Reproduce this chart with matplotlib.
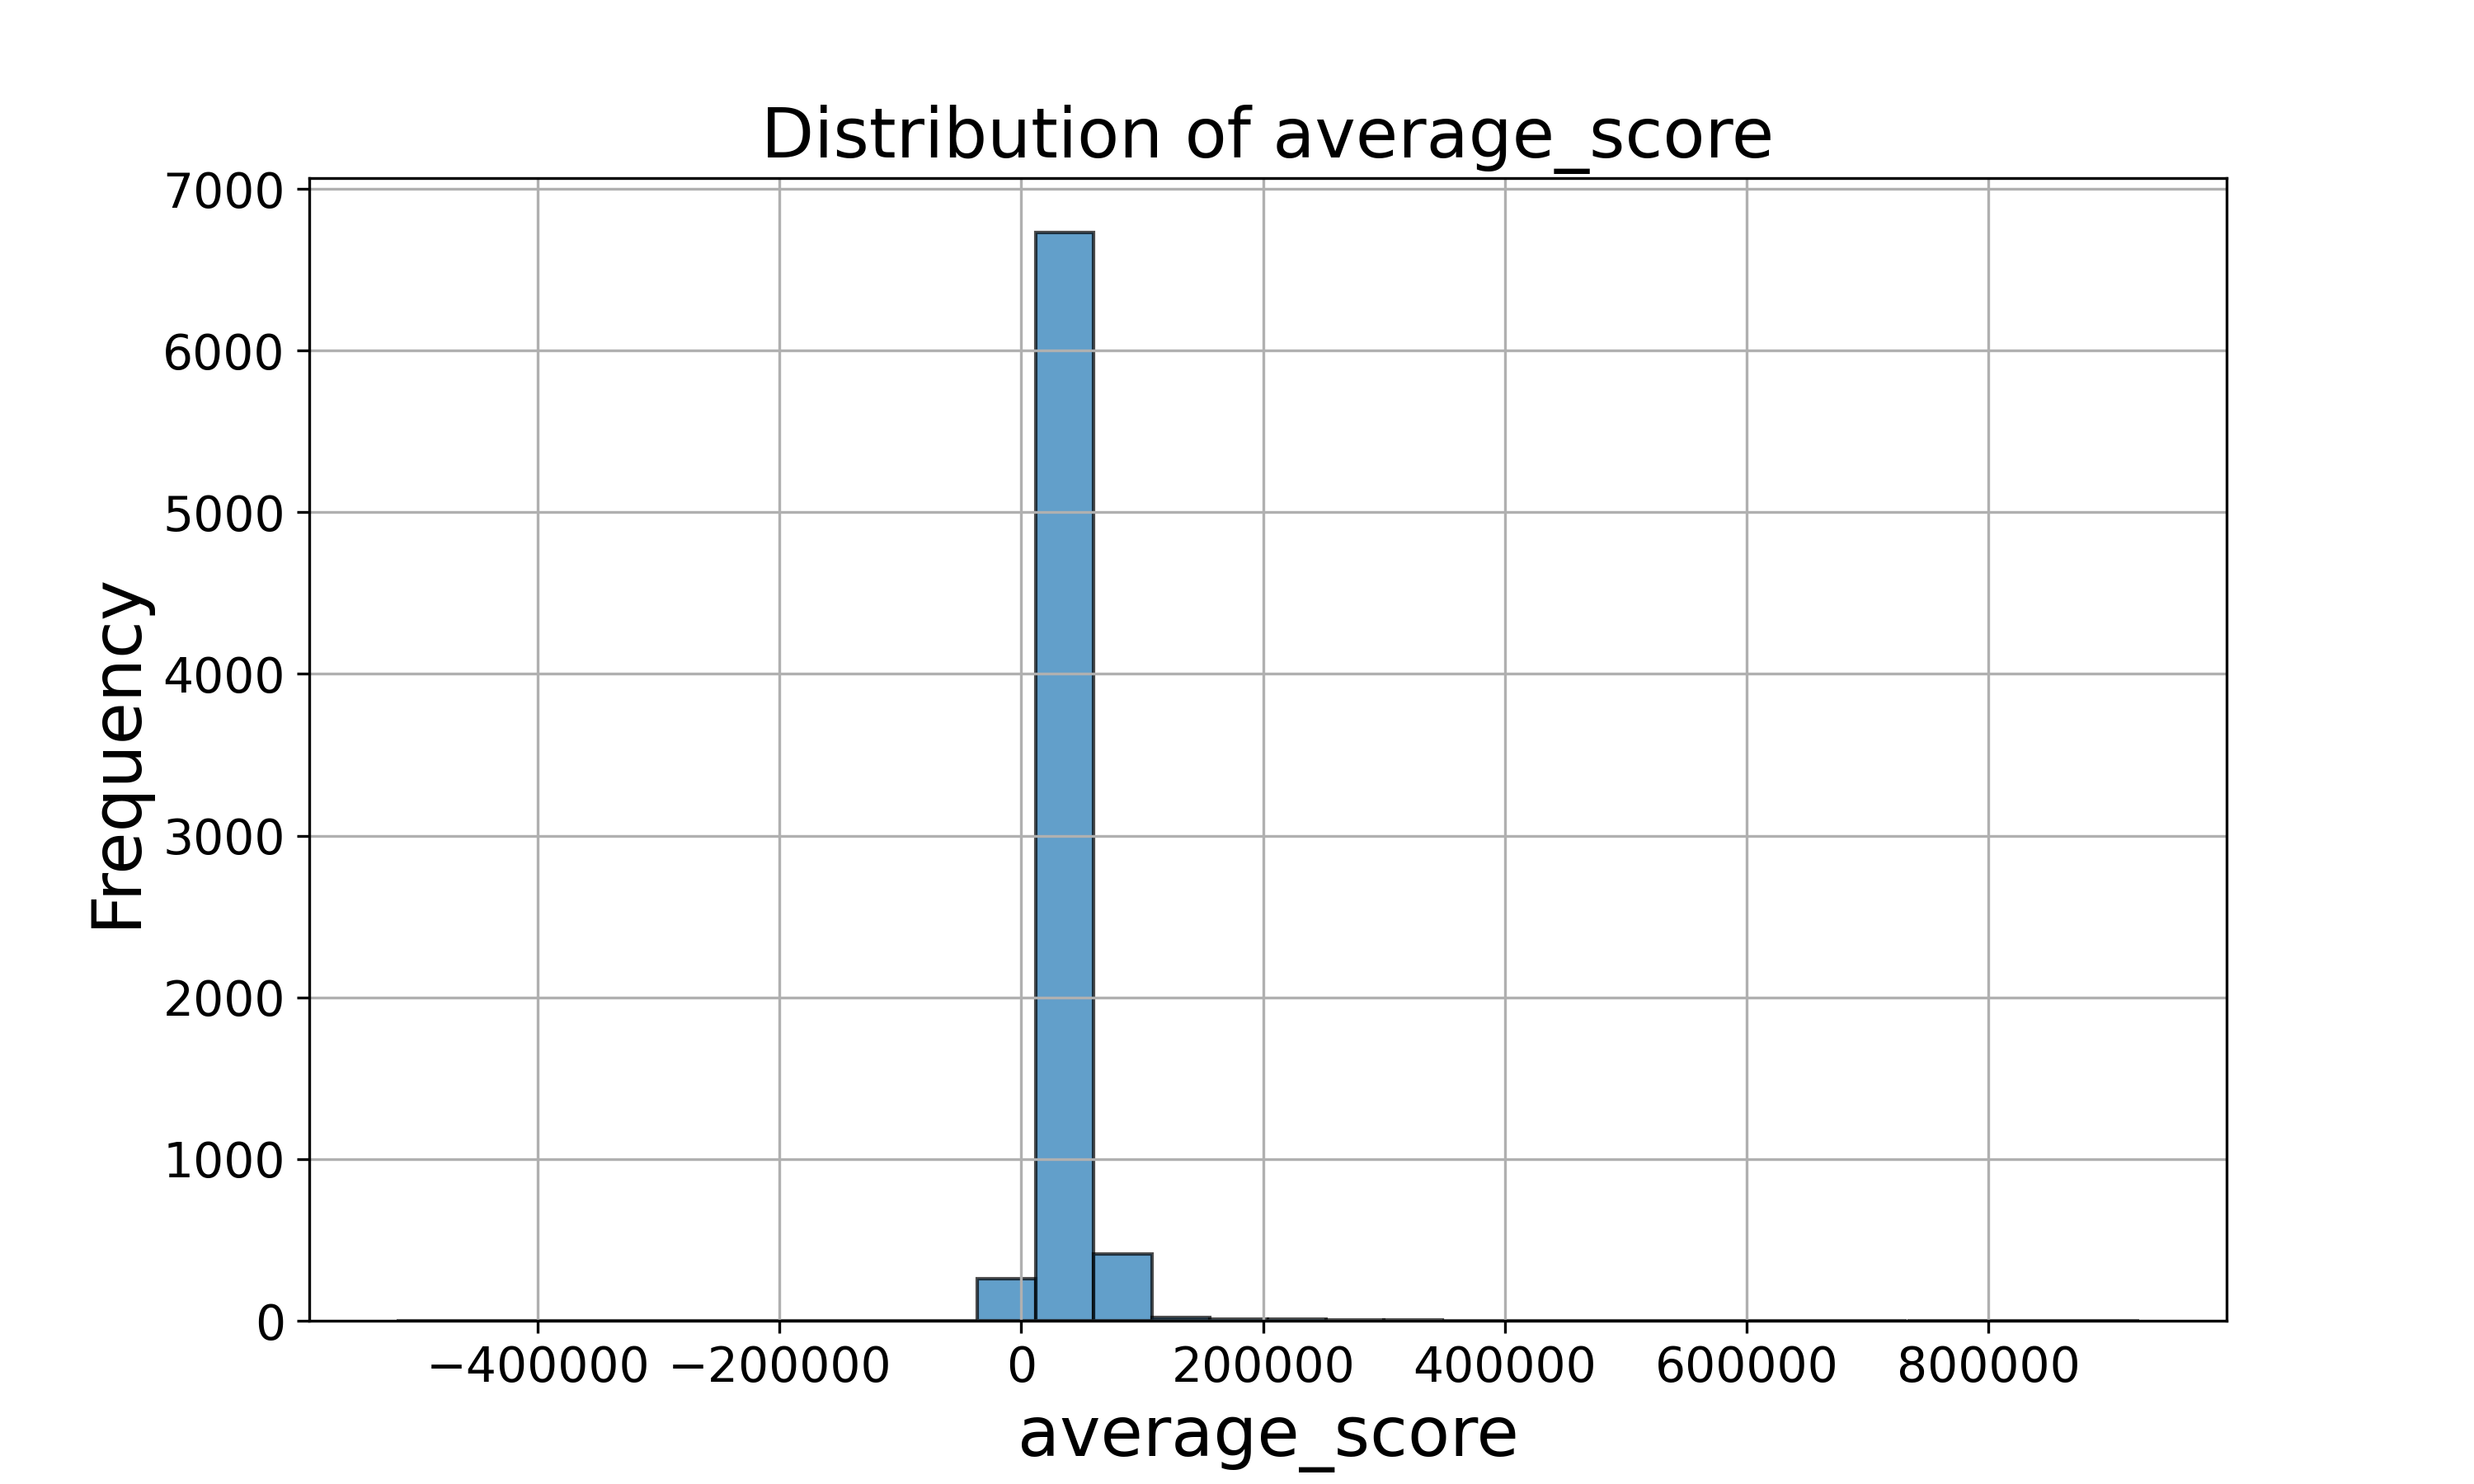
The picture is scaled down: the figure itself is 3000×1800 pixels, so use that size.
import matplotlib.pyplot as plt
import numpy as np

# histogram of average_score: 30 bins between min and max
bin_lo = -517000
bin_hi = 925000
n_bins = 30
counts = [1, 0, 0, 0, 0, 0, 0, 0, 0, 0,
          262, 6730, 415, 22, 9, 8, 4, 3, 1, 1,
          1, 0, 1, 0, 0, 1, 0, 0, 0, 1]

edges = np.linspace(bin_lo, bin_hi, n_bins + 1)
centers = (edges[:-1] + edges[1:]) / 2

fig, ax = plt.subplots(figsize=(10, 6), dpi=300)
ax.hist(centers, bins=edges, weights=counts, color='#1f77b4',
        alpha=0.7, edgecolor='black')
ax.grid(True)
ax.set_title('Distribution of average_score', fontsize=20)
ax.set_xlabel('average_score', fontsize=20)
ax.set_ylabel('Frequency', fontsize=20)
ax.tick_params(axis='both', labelsize=14)

plt.savefig('out.png')
